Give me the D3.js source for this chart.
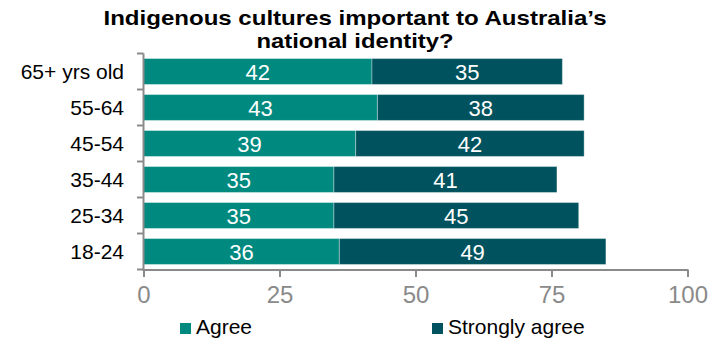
<!DOCTYPE html>
<html><head><meta charset="utf-8">
<script src="https://cdn.jsdelivr.net/npm/d3@7"></script>
<style>body{margin:0;background:#fff}svg{display:block;font-family:"Liberation Sans",Arial,sans-serif}</style>
</head><body>
<svg id="c" width="719" height="343"></svg>
<script>
const categories = ["65+ yrs old","55-64","45-54","35-44","25-34","18-24"];
const agree = [42,43,39,35,35,36];
const stronglyAgree = [35,38,42,41,45,49];
const seriesNames = ["Agree","Strongly agree"];
const xTicks = [0,25,50,75,100];
const titleLines = ["Indigenous cultures important to Australia\u2019s","national identity?"];

const colors = ["#008a7f","#00535e"];
const svg = d3.select("#c");
const x = d3.scaleLinear().domain([0,100]).range([143.5,687.5]);
const y = d3.scaleBand().domain(categories).range([53.5,269.5]).paddingInner(0.28).paddingOuter(0.14);

// title (two lines, glyphs stretched horizontally like the reference)
const titleWidths = [503, 197];
titleLines.forEach((t,i)=>{
  svg.append("text").attr("x",355).attr("y",24.5+i*23).attr("text-anchor","middle")
    .style("font-weight","bold").style("font-size","20.5px").attr("fill","#000")
    .attr("textLength",titleWidths[i]).attr("lengthAdjust","spacingAndGlyphs").text(t);
});

const rows = categories.map((c,i)=>({c, vals:[agree[i],stronglyAgree[i]]}));
const g = svg.append("g");
rows.forEach(r=>{
  let acc=0;
  r.vals.forEach((v,j)=>{
    const x0=x(acc), x1=x(acc+v);
    g.append("rect").attr("x",x0).attr("y",y(r.c)).attr("width",x1-x0).attr("height",y.bandwidth())
      .attr("fill",colors[j]).attr("stroke","rgba(255,255,255,0.35)").attr("stroke-width",1);
    g.append("text").attr("x",(x0+x1)/2).attr("y",y(r.c)+y.bandwidth()/2+8.5)
      .attr("text-anchor","middle").attr("fill","#fff").style("font-size","22px").text(v);
    acc+=v;
  });
});

// y axis
const axisColor="#8a8a8a";
svg.append("line").attr("x1",143.5).attr("x2",143.5).attr("y1",53.5).attr("y2",270.5).attr("stroke",axisColor).attr("stroke-width",2);
const bounds = categories.map(c=>y(c)-y.step()*y.paddingInner()/2);
bounds.push(269.5);
svg.selectAll(".yt").data(bounds).join("line").attr("x1",137).attr("x2",143.5).attr("y1",d=>d).attr("y2",d=>d).attr("stroke",axisColor).attr("stroke-width",2);
svg.selectAll(".yl").data(categories).join("text").attr("x",124).attr("y",c=>y(c)+y.bandwidth()/2+7.5)
  .attr("text-anchor","end").style("font-size","21px").attr("fill","#000").text(d=>d);

// x axis
const xa = d3.axisBottom(x).tickValues(xTicks).tickSize(7).tickPadding(9);
const xg = svg.append("g").attr("transform","translate(0,270)").call(xa);
xg.select(".domain").attr("stroke",axisColor).attr("stroke-width",2).attr("d","M142.5,0H688.5");
xg.selectAll(".tick line").attr("stroke",axisColor).attr("stroke-width",2);
xg.selectAll(".tick text").attr("fill","#8a8a8a").style("font-size","24px").style("font-family","'Liberation Sans',Arial,sans-serif");

// legend
const legX=[180,432];
seriesNames.forEach((n,i)=>{
  svg.append("rect").attr("x",legX[i]).attr("y",323).attr("width",11).attr("height",11).attr("fill",colors[i]);
  svg.append("text").attr("x",legX[i]+16).attr("y",334).style("font-size","21px").attr("fill","#000").text(n);
});
</script>
</body></html>
